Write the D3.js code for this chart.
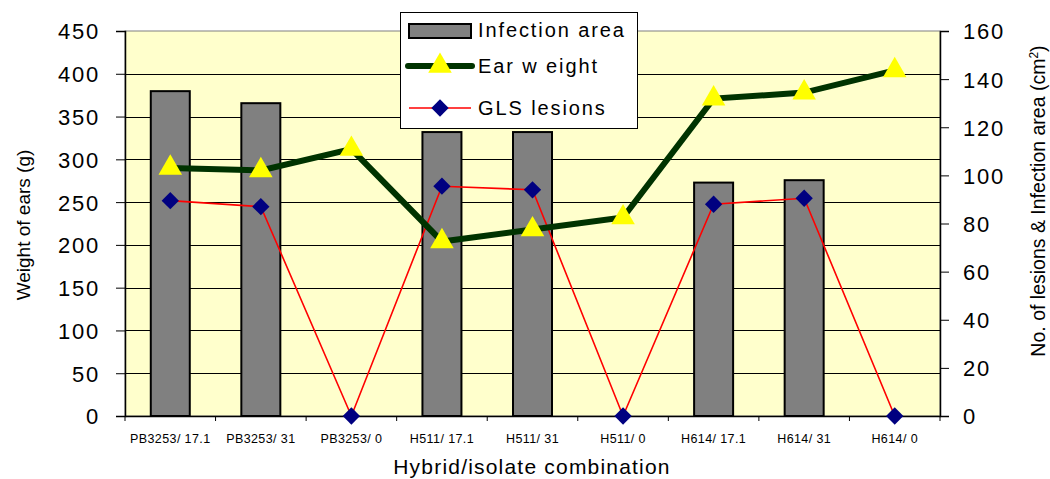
<!DOCTYPE html>
<html>
<head>
<meta charset="utf-8">
<script src="https://cdn.jsdelivr.net/npm/d3@7"></script>
<style>
  body { margin: 0; background: #fff; }
  text { font-family: Arial, "Liberation Sans", sans-serif; fill: #000; }
</style>
</head>
<body>
<svg id="chart" width="1050" height="479"></svg>
<script>
// data
const categories = ['PB3253/ 17.1', 'PB3253/ 31', 'PB3253/ 0', 'H511/ 17.1', 'H511/ 31', 'H511/ 0', 'H614/ 17.1', 'H614/ 31', 'H614/ 0'];
const infectionArea = [135, 130, 0, 118, 118, 0, 97, 98, 0];
const earWeight = [290, 287, 312, 204, 218, 232, 371, 378, 404];
const glsLesions = [89.5, 87, 0, 95.5, 94, 0, 88, 90.5, 0];
const leftTicks = [0, 50, 100, 150, 200, 250, 300, 350, 400, 450];
const rightTicks = [0, 20, 40, 60, 80, 100, 120, 140, 160];

const svg = d3.select('#chart');
const plot = { left: 125, right: 940, top: 31, bottom: 416 };

const x = d3.scaleBand().domain(categories).range([plot.left, plot.right]);
const yLeft = d3.scaleLinear().domain([0, 450]).range([plot.bottom, plot.top]);
const yRight = d3.scaleLinear().domain([0, 160]).range([plot.bottom, plot.top]);

// plot background
svg.append('rect')
  .attr('x', plot.left).attr('y', plot.top)
  .attr('width', plot.right - plot.left).attr('height', plot.bottom - plot.top)
  .attr('fill', '#FFFFCC').attr('stroke', '#808080').attr('stroke-width', 1);

// gridlines from left axis
svg.append('g').selectAll('line')
  .data(leftTicks.filter(d => d > 0 && d < 450))
  .join('line')
  .attr('x1', plot.left).attr('x2', plot.right)
  .attr('y1', d => Math.round(yLeft(d)) + 0.5).attr('y2', d => Math.round(yLeft(d)) + 0.5)
  .attr('stroke', '#000').attr('stroke-width', 1);

// bars
const barW = 39;
svg.append('g').selectAll('rect')
  .data(infectionArea.map((v, i) => ({ cat: categories[i], v })).filter(d => d.v > 0))
  .join('rect')
  .attr('x', d => x(d.cat) + x.bandwidth() / 2 - barW / 2)
  .attr('y', d => yRight(d.v))
  .attr('width', barW)
  .attr('height', d => plot.bottom - yRight(d.v))
  .attr('fill', '#808080').attr('stroke', '#000').attr('stroke-width', 2);

// axes
const leftAxis = svg.append('g')
  .attr('transform', `translate(${plot.left},0)`)
  .call(d3.axisLeft(yLeft).tickValues(leftTicks).tickSize(9).tickPadding(16));
leftAxis.select('.domain').attr('stroke', '#000').attr('stroke-width', 1.5);
leftAxis.selectAll('.tick line').attr('stroke', '#000');
leftAxis.selectAll('.tick text')
  .style('font-size', '22px').style('letter-spacing', '1.8px')
  .attr('font-family', null).attr('dy', '0.36em');

const rightAxis = svg.append('g')
  .attr('transform', `translate(${plot.right},0)`)
  .call(d3.axisRight(yRight).tickValues(rightTicks).tickSize(9).tickPadding(14));
rightAxis.select('.domain').attr('stroke', '#000').attr('stroke-width', 1.5);
rightAxis.selectAll('.tick line').attr('stroke', '#000');
rightAxis.selectAll('.tick text')
  .style('font-size', '22px').style('letter-spacing', '1.8px')
  .attr('font-family', null).attr('dy', '0.36em');

const bottomAxis = svg.append('g')
  .attr('transform', `translate(0,${plot.bottom})`)
  .call(d3.axisBottom(x).tickSize(0).tickPadding(18));
bottomAxis.select('.domain').attr('stroke', '#000').attr('stroke-width', 1.5);
bottomAxis.selectAll('.tick text')
  .style('font-size', '12.5px').style('letter-spacing', '0.4px').attr('font-family', null);
// category boundary ticks
svg.append('g').selectAll('line')
  .data(categories.map(c => x(c)).concat([plot.right]))
  .join('line')
  .attr('x1', d => d).attr('x2', d => d)
  .attr('y1', plot.bottom).attr('y2', plot.bottom + 5)
  .attr('stroke', '#000');

// GLS lesions line
svg.append('path')
  .datum(glsLesions)
  .attr('d', d3.line().x((d, i) => x(categories[i]) + x.bandwidth() / 2).y(d => yRight(d)))
  .attr('fill', 'none').attr('stroke', '#FF0000').attr('stroke-width', 1.6);

// ear weight line
svg.append('path')
  .datum(earWeight)
  .attr('d', d3.line().x((d, i) => x(categories[i]) + x.bandwidth() / 2).y(d => yLeft(d)))
  .attr('fill', 'none').attr('stroke', '#003300').attr('stroke-width', 6);

const diamond = d3.symbol().type(d3.symbolSquare).size(150);
svg.append('g').selectAll('path')
  .data(glsLesions)
  .join('path')
  .attr('d', diamond)
  .attr('transform', (d, i) => `translate(${x(categories[i]) + x.bandwidth() / 2},${yRight(d)}) rotate(45)`)
  .attr('fill', '#000080');

const tri = d3.symbol().type(d3.symbolTriangle).size(240);
svg.append('g').selectAll('path')
  .data(earWeight)
  .join('path')
  .attr('d', tri)
  .attr('transform', (d, i) => `translate(${x(categories[i]) + x.bandwidth() / 2},${yLeft(d)})`)
  .attr('fill', '#FFFF00');

// axis titles
svg.append('text')
  .attr('x', 532).attr('y', 474)
  .attr('text-anchor', 'middle')
  .style('font-size', '21px').style('letter-spacing', '1.2px')
  .text('Hybrid/isolate combination');

svg.append('text')
  .attr('transform', 'translate(30,225) rotate(-90)')
  .attr('text-anchor', 'middle')
  .style('font-size', '19px')
  .text('Weight of ears (g)');

const rt = svg.append('text')
  .attr('transform', 'translate(1045,201) rotate(-90)')
  .attr('text-anchor', 'middle')
  .style('font-size', '19.5px');
rt.append('tspan').text('No. of lesions & Infection area (cm');
rt.append('tspan').attr('dy', -7).style('font-size', '12px').text('2');
rt.append('tspan').attr('dy', 7).text(')');

// legend
const lg = svg.append('g');
lg.append('rect')
  .attr('x', 400.5).attr('y', 12.5).attr('width', 237).attr('height', 116)
  .attr('fill', '#fff').attr('stroke', '#000');
const legendItems = ['Infection area', 'Ear w eight', 'GLS lesions'];
const ly = [30, 66, 108];
lg.append('rect')
  .attr('x', 409).attr('y', 24).attr('width', 62).attr('height', 14)
  .attr('fill', '#808080').attr('stroke', '#000').attr('stroke-width', 2);
lg.append('line').attr('x1', 408).attr('x2', 472).attr('y1', ly[1]).attr('y2', ly[1])
  .attr('stroke', '#003300').attr('stroke-width', 6).attr('stroke-linecap', 'round');
lg.append('path').attr('d', tri).attr('transform', `translate(440,${ly[1]})`).attr('fill', '#FFFF00');
lg.append('line').attr('x1', 409).attr('x2', 471).attr('y1', ly[2]).attr('y2', ly[2])
  .attr('stroke', '#FF0000').attr('stroke-width', 1.6);
lg.append('path').attr('d', diamond).attr('transform', `translate(440,${ly[2]}) rotate(45)`).attr('fill', '#000080');
lg.selectAll('text.item')
  .data(legendItems)
  .join('text')
  .attr('class', 'item')
  .attr('x', 478).attr('y', (d, i) => ly[i] + 7)
  .style('font-size', '20px').style('letter-spacing', '1.9px')
  .text(d => d);
</script>
</body>
</html>
